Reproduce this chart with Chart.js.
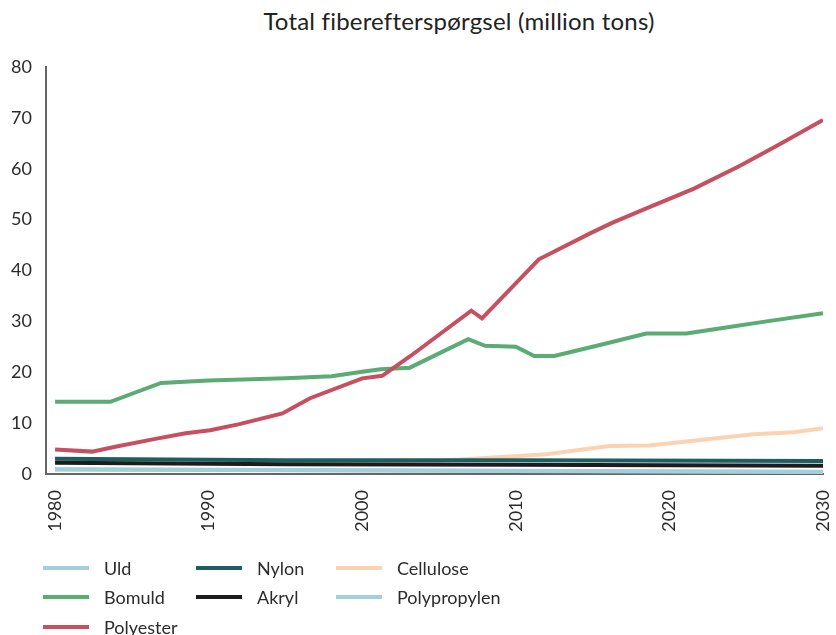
<!DOCTYPE html>
<html>
<head>
<meta charset="utf-8">
<script src="https://cdn.jsdelivr.net/npm/chart.js@4.4.1/dist/chart.umd.min.js"></script>
<style>
  html, body { margin: 0; padding: 0; background: #fff; }
  body { width: 836px; height: 635px; position: relative; overflow: hidden; font-family: Lato, "Open Sans", sans-serif; color: #2b2b2b; }
  #title { position: absolute; top: 6px; left: 0; width: 918px; text-align: center; font-size: 24px; letter-spacing: 0.2px; color: #222; }
  #wrap { position: absolute; left: 0; top: 0; width: 836px; height: 540px; }
  #legend { position: absolute; left: 0; top: 0; width: 836px; height: 635px; pointer-events: none; }
  .item { position: absolute; height: 20px; display: flex; align-items: center; font-size: 18px; color: #2b2b2b; }
  .sw { width: 46px; height: 4px; margin-right: 15px; }
</style>
</head>
<body>
<div id="title">Total fiberefterspørgsel (million tons)</div>
<div id="wrap"><canvas id="c" width="836" height="540"></canvas></div>
<div id="legend"></div>
<script>
// ---- Data (years, million tons) ----
const seriesNames = ["Uld", "Bomuld", "Polyester", "Nylon", "Akryl", "Cellulose", "Polypropylen"];
const xTickYears = [1980, 1990, 2000, 2010, 2020, 2030];
const yTicks = [0, 10, 20, 30, 40, 50, 60, 70, 80];

const uldYears = [1980, 2000, 2030];
const uldValues = [0.9, 0.7, 0.4];

const bomuldYears = [1980, 1983.6, 1986.9, 1990, 1995, 1998, 2000, 2001.2, 2003.1, 2006.9, 2008, 2010, 2011.2, 2012.5, 2015, 2018.5, 2021.1, 2023.9, 2026.1, 2030];
const bomuldValues = [14.2, 14.2, 17.9, 18.4, 18.8, 19.2, 20.1, 20.6, 20.9, 26.5, 25.2, 25.0, 23.2, 23.2, 25.0, 27.6, 27.6, 28.9, 29.9, 31.6];

const polyesterYears = [1980, 1982.4, 1984, 1986.7, 1988.5, 1990.1, 1992, 1994.8, 1996.6, 2000, 2001.3, 2003.1, 2007.1, 2007.8, 2011.5, 2014.9, 2016.3, 2018.5, 2021.6, 2024.6, 2027, 2030];
const polyesterValues = [4.8, 4.4, 5.4, 7.0, 8.0, 8.6, 9.8, 11.9, 14.9, 18.8, 19.3, 23.1, 32.1, 30.6, 42.2, 47.4, 49.4, 52.2, 56.1, 60.6, 64.5, 69.6];

const nylonYears = [1980, 1995, 2010, 2030];
const nylonValues = [3.0, 2.7, 2.7, 2.55];

const akrylYears = [1980, 1995, 2010, 2030];
const akrylValues = [2.2, 1.9, 1.8, 1.6];

const celluloseYears = [1980, 2005, 2007.7, 2012, 2016.1, 2018.7, 2022, 2025.5, 2028.1, 2030];
const celluloseValues = [2.5, 2.6, 3.1, 3.9, 5.5, 5.6, 6.7, 7.8, 8.2, 9.0];

const polypropylenYears = [1980, 2000, 2030];
const polypropylenValues = [0.95, 0.75, 0.45];

const colors = ["#a3cfdb", "#5aab74", "#c65060", "#1d5e61", "#1c1c1c", "#fcd2b2", "#a3cfdb"];

const allYears = [uldYears, bomuldYears, polyesterYears, nylonYears, akrylYears, celluloseYears, polypropylenYears];
const allValues = [uldValues, bomuldValues, polyesterValues, nylonValues, akrylValues, celluloseValues, polypropylenValues];

const datasets = seriesNames.map((name, i) => ({
  label: name,
  data: allYears[i].map((yr, j) => ({ x: yr, y: allValues[i][j] })),
  borderColor: colors[i],
  backgroundColor: colors[i],
  borderWidth: 4,
  pointRadius: 0,
  tension: 0,
  fill: false,
  order: [6, 2, 1, 3, 4, 5, 7][i]
}));

const FONT = "Lato, 'Open Sans', sans-serif";

new Chart(document.getElementById('c'), {
  type: 'line',
  data: { datasets },
  options: {
    responsive: false,
    animation: false,
    layout: { padding: { top: 67, right: 13, left: 0, bottom: 0 } },
    plugins: { legend: { display: false }, title: { display: false }, tooltip: { enabled: false } },
    scales: {
      x: {
        type: 'linear',
        min: 1979.41,
        max: 2030,
        afterBuildTicks: s => { s.ticks = xTickYears.map(v => ({ value: v })); },
        afterFit: s => { s.height = 66; s.paddingRight = 0; s.paddingLeft = 0; },
        grid: { display: false },
        border: { display: true, color: '#666', width: 2 },
        ticks: {
          minRotation: 90, maxRotation: 90, padding: 8,
          color: '#2b2b2b', font: { family: FONT, size: 18 },
          callback: v => String(v)
        }
      },
      y: {
        min: 0, max: 80,
        afterBuildTicks: s => { s.ticks = yTicks.map(v => ({ value: v })); },
        afterFit: s => { s.width = 46; s.paddingTop = 0; s.paddingBottom = 0; },
        grid: { display: false },
        border: { display: true, color: '#666', width: 2 },
        ticks: { padding: 6, color: '#2b2b2b', font: { family: FONT, size: 18 } }
      }
    }
  }
});

// HTML legend, column-major like the reference
const legendPos = [
  [43, 558], [43, 587], [43, 617],
  [196, 558], [196, 587],
  [336, 558], [336, 587]
];
const lg = document.getElementById('legend');
seriesNames.forEach((name, i) => {
  const d = document.createElement('div');
  d.className = 'item';
  d.style.left = legendPos[i][0] + 'px';
  d.style.top = legendPos[i][1] + 'px';
  const sw = document.createElement('span');
  sw.className = 'sw';
  sw.style.background = colors[i];
  const t = document.createElement('span');
  t.textContent = name;
  d.appendChild(sw); d.appendChild(t);
  lg.appendChild(d);
});
</script>
</body>
</html>
